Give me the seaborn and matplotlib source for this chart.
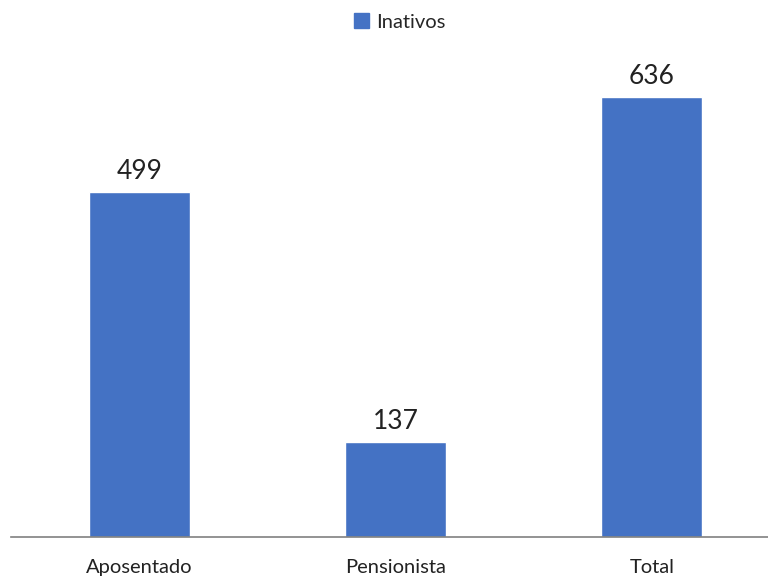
import matplotlib
matplotlib.use("Agg")
import matplotlib.pyplot as plt
import seaborn as sns
import pandas as pd

categorias = ["Aposentado", "Pensionista", "Total"]
valores = [499, 137, 636]
serie = "Inativos"
cor = "#4472C4"

df = pd.DataFrame({"categoria": categorias, "valor": valores, "serie": serie})

sns.set_style("white")
plt.rcParams["font.family"] = ["Lato", "DejaVu Sans"]

fig = plt.figure(figsize=(7.68, 5.77), dpi=100)
ax = fig.add_axes([11 / 768, 40 / 577, 757 / 768, 484 / 577])

sns.barplot(data=df, x="categoria", y="valor", hue="serie", palette=[cor],
            width=0.395, saturation=1, ax=ax, legend=False)

for c in ax.containers:
    ax.bar_label(c, fontsize=19, padding=6, color="#222222")

ax.set_xlim(-0.5, 2.5 - 12 / 256)
ax.set_ylim(0, 700)
ax.set_xlabel("")
ax.set_ylabel("")
ax.set_yticks([])
ax.tick_params(axis="x", length=0, pad=16, labelsize=14.5, labelcolor="#222222")
for s in ["top", "right", "left"]:
    ax.spines[s].set_visible(False)
ax.spines["bottom"].set_color("#808080")
ax.spines["bottom"].set_linewidth(1.2)

handle = plt.Rectangle((0, 0), 1, 1, color=cor)
fig.legend([handle], [serie], loc="center", bbox_to_anchor=(400 / 768, 1 - 22 / 577),
           frameon=False, fontsize=14.5, handlelength=0.75, handleheight=0.75,
           handletextpad=0.35, borderpad=0)

fig.savefig("out.png", dpi=100)
